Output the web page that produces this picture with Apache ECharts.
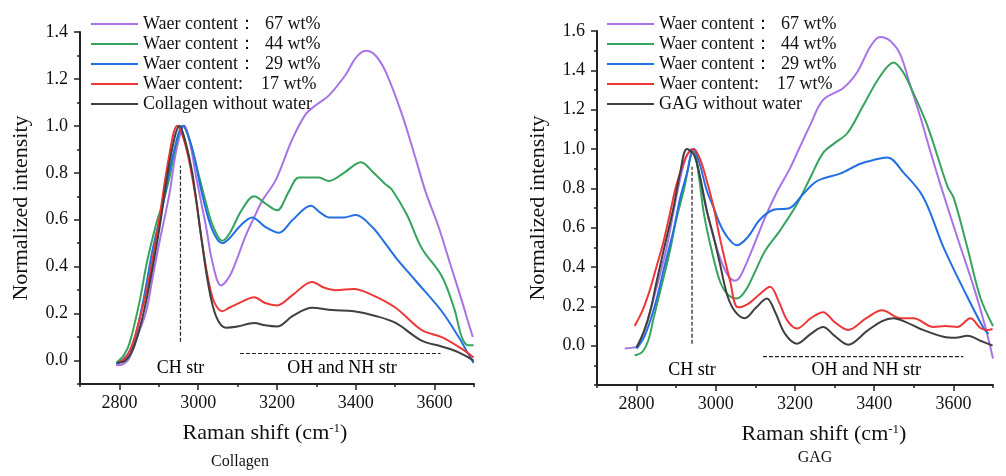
<!DOCTYPE html>
<html lang="en">
<head>
    <meta charset="UTF-8">
    <title>Raman spectra - Collagen / GAG</title>
    <script src="https://cdn.jsdelivr.net/npm/echarts@6.0.0/dist/echarts.min.js"></script>
    <style>
        html, body { margin: 0; padding: 0; background: #fff; }
        #chart { width: 1006px; height: 476px; }
    </style>
</head>
<body>
    <div id="chart"></div>
    <script>
        // 图例名称
        var namesCommon = ['Waer content：  67 wt%', 'Waer content：  44 wt%', 'Waer content：  29 wt%', 'Waer content:    17 wt%'];
        var namesCollagen = namesCommon.concat(['Collagen without water']);
        var namesGag = namesCommon.concat(['GAG without water']);
        var colors = ['#a873e6', '#36a45c', '#2270e2', '#ec3838', '#3f3f3f'];

        // 刻度
        var xMajorTicks = [2800, 3000, 3200, 3400, 3600];
        var yMajorLeft = [0, 0.2, 0.4, 0.6, 0.8, 1.0, 1.2, 1.4];
        var yMajorRight = [0, 0.2, 0.4, 0.6, 0.8, 1.0, 1.2, 1.4, 1.6];

        // Collagen 数据 [Raman shift, intensity]
        var col67 = [[2792,-0.02],[2810,-0.015],[2825,0.01],[2845,0.1],[2868,0.21],[2885,0.36],[2901,0.5],[2927,0.71],[2945,0.9],[2965,1.0],[2980,0.92],[2995,0.78],[3020,0.57],[3036,0.42],[3058,0.32],[3080,0.36],[3100,0.44],[3120,0.53],[3142,0.61],[3162,0.68],[3197,0.77],[3238,0.94],[3273,1.05],[3300,1.09],[3332,1.13],[3375,1.22],[3400,1.29],[3425,1.32],[3450,1.30],[3476,1.23],[3517,1.05],[3552,0.86],[3577,0.72],[3610,0.57],[3640,0.41],[3670,0.25],[3686,0.16],[3697,0.1]];
        var col44 = [[2792,-0.01],[2810,0.02],[2825,0.07],[2851,0.25],[2870,0.42],[2893,0.58],[2910,0.67],[2927,0.78],[2945,0.93],[2960,1.0],[2980,0.93],[3003,0.78],[3020,0.67],[3036,0.58],[3061,0.51],[3079,0.54],[3110,0.64],[3142,0.70],[3170,0.67],[3200,0.64],[3230,0.72],[3256,0.78],[3306,0.78],[3332,0.765],[3370,0.8],[3413,0.845],[3445,0.8],[3476,0.75],[3491,0.73],[3530,0.62],[3567,0.48],[3618,0.36],[3650,0.22],[3669,0.10],[3685,0.065],[3699,0.065]];
        var col29 = [[2792,-0.015],[2810,0.005],[2833,0.06],[2860,0.25],[2884,0.47],[2910,0.66],[2930,0.83],[2962,1.0],[2985,0.9],[3010,0.71],[3035,0.56],[3061,0.50],[3079,0.52],[3110,0.58],[3137,0.61],[3170,0.57],[3205,0.545],[3240,0.6],[3286,0.66],[3310,0.63],[3332,0.61],[3370,0.61],[3400,0.62],[3441,0.57],[3470,0.51],[3501,0.44],[3552,0.34],[3618,0.21],[3661,0.10],[3685,0.03],[3699,-0.01]];
        var col17 = [[2795,-0.01],[2815,0.01],[2833,0.07],[2850,0.17],[2868,0.29],[2885,0.44],[2901,0.6],[2925,0.86],[2947,1.0],[2962,0.95],[2977,0.85],[2995,0.68],[3010,0.5],[3036,0.27],[3061,0.21],[3079,0.225],[3110,0.25],[3142,0.27],[3170,0.245],[3200,0.235],[3240,0.28],[3289,0.335],[3320,0.31],[3349,0.30],[3395,0.305],[3441,0.28],[3501,0.225],[3567,0.13],[3618,0.10],[3669,0.05],[3699,0.013]];
        var col0 = [[2795,-0.01],[2815,0.0],[2835,0.05],[2855,0.16],[2870,0.27],[2890,0.45],[2905,0.6],[2930,0.87],[2953,1.0],[2968,0.93],[2985,0.8],[3005,0.56],[3025,0.33],[3045,0.19],[3070,0.14],[3100,0.145],[3142,0.16],[3170,0.15],[3200,0.145],[3240,0.19],[3289,0.225],[3340,0.215],[3395,0.21],[3450,0.19],[3501,0.16],[3567,0.085],[3618,0.06],[3661,0.035],[3699,0.0]];

        // GAG 数据
        var gag67 = [[2770,-0.015],[2790,-0.01],[2800,-0.005],[2820,0.08],[2843,0.24],[2860,0.37],[2876,0.5],[2893,0.68],[2909,0.84],[2925,0.96],[2939,1.0],[2955,0.9],[2970,0.75],[2990,0.58],[3010,0.45],[3030,0.36],[3048,0.33],[3061,0.35],[3090,0.48],[3124,0.65],[3154,0.78],[3187,0.9],[3210,1.0],[3238,1.12],[3271,1.25],[3322,1.31],[3357,1.39],[3390,1.52],[3415,1.57],[3440,1.55],[3466,1.48],[3490,1.33],[3517,1.16],[3540,1.0],[3567,0.82],[3610,0.55],[3651,0.30],[3680,0.1],[3700,-0.065]];
        var gag44 = [[2795,-0.05],[2815,-0.03],[2830,0.03],[2843,0.14],[2860,0.28],[2884,0.48],[2900,0.64],[2919,0.79],[2944,1.0],[2958,0.85],[2970,0.67],[2990,0.48],[3010,0.33],[3030,0.26],[3053,0.24],[3075,0.28],[3100,0.38],[3124,0.48],[3162,0.585],[3205,0.72],[3240,0.86],[3271,0.98],[3300,1.03],[3332,1.08],[3372,1.22],[3415,1.37],[3449,1.44],[3470,1.40],[3491,1.32],[3534,1.12],[3585,0.81],[3601,0.75],[3635,0.5],[3668,0.245],[3700,0.10]];
        var gag29 = [[2800,-0.015],[2818,0.04],[2835,0.13],[2851,0.24],[2870,0.4],[2893,0.585],[2910,0.75],[2927,0.875],[2944,1.0],[2960,0.92],[2977,0.79],[2995,0.7],[3010,0.62],[3030,0.55],[3053,0.51],[3080,0.55],[3111,0.64],[3144,0.69],[3187,0.70],[3220,0.77],[3250,0.83],[3271,0.85],[3314,0.875],[3365,0.925],[3400,0.945],[3433,0.957],[3474,0.88],[3524,0.755],[3575,0.50],[3636,0.245],[3676,0.09],[3689,0.06]];
        var gag17 = [[2795,0.10],[2815,0.18],[2833,0.28],[2850,0.4],[2868,0.53],[2885,0.68],[2901,0.82],[2925,0.96],[2944,1.0],[2960,0.95],[2977,0.84],[2995,0.7],[3010,0.55],[3036,0.33],[3056,0.195],[3080,0.21],[3110,0.26],[3137,0.30],[3160,0.22],[3180,0.13],[3205,0.087],[3240,0.14],[3271,0.17],[3300,0.12],[3334,0.08],[3380,0.14],[3420,0.18],[3466,0.14],[3499,0.14],[3550,0.095],[3580,0.1],[3610,0.095],[3643,0.14],[3668,0.09],[3685,0.08],[3699,0.085]];
        var gag0 = [[2800,-0.01],[2820,0.08],[2835,0.18],[2851,0.33],[2870,0.5],[2893,0.70],[2910,0.88],[2927,1.0],[2945,0.97],[2960,0.86],[2977,0.69],[2995,0.55],[3010,0.42],[3030,0.25],[3050,0.17],[3073,0.14],[3100,0.19],[3129,0.24],[3150,0.17],[3175,0.06],[3205,0.01],[3240,0.06],[3271,0.095],[3300,0.05],[3334,0.005],[3382,0.075],[3420,0.125],[3448,0.14],[3480,0.12],[3517,0.085],[3575,0.045],[3605,0.04],[3636,0.05],[3668,0.025],[3699,0.0]];

        // 标注 (虚线和文字)
        var colVLine = [[2955,0.08],[2955,0.83]];
        var colHLine = [[3106,0.03],[3615,0.03]];
        var colNotes = [[2955,-0.035,'CH str'],[3365,-0.035,'OH and NH str']];
        var gagVLine = [[2940,0.01],[2940,0.91]];
        var gagHLine = [[3119,-0.056],[3625,-0.056]];
        var gagNotes = [[2940,-0.127,'CH str'],[3380,-0.127,'OH and NH str']];

        var FONT = '"Liberation Serif", "Times New Roman", serif';
        var myChart = echarts.init(document.getElementById('chart'));

        function curve(name, data, color, g) {
            return {
                name: name, type: 'line', xAxisIndex: g * 2, yAxisIndex: g * 2,
                data: data, smooth: 0.35, symbol: 'none', silent: true,
                lineStyle: { color: color, width: 2 }, itemStyle: { color: color }
            };
        }
        function dashed(data, g) {
            return {
                type: 'line', xAxisIndex: g * 2, yAxisIndex: g * 2, data: data,
                symbol: 'none', silent: true,
                lineStyle: { color: '#222', width: 1.2, type: [4, 2] }
            };
        }
        function notes(data, g) {
            return {
                type: 'scatter', xAxisIndex: g * 2, yAxisIndex: g * 2, data: data,
                symbolSize: 0, silent: true,
                label: {
                    show: true, position: 'inside', color: '#000', fontSize: 18, fontFamily: FONT,
                    textBorderWidth: 0, opacity: 1,
                    formatter: function (p) { return p.data[2]; }
                }
            };
        }
        function xAxes(g, pad) {
            return [{
                gridIndex: g, type: 'value', min: 2700, max: 3700, interval: 100, position: 'bottom',
                axisLine: { onZero: false, lineStyle: { color: '#222', width: 2 } },
                axisTick: { length: 3, lineStyle: { color: '#222', width: 1.5 } },
                axisLabel: {
                    margin: 10, color: '#111', fontSize: 18, fontFamily: FONT,
                    formatter: function (v) { return v % 200 === 0 ? String(v) : ''; }
                },
                splitLine: { show: false },
                name: 'Raman shift (cm{sup|-1})', nameLocation: 'middle', nameGap: 38,
                nameTextStyle: {
                    color: '#111', fontSize: 22, fontFamily: FONT, padding: pad,
                    rich: { sup: { fontSize: 13, fontFamily: FONT, color: '#111', verticalAlign: 'top', padding: [0, 0, 10, 0] } }
                }
            }, {
                gridIndex: g, type: 'value', min: 2700, max: 3700, position: 'bottom',
                axisLine: { show: false, onZero: false },
                axisTick: { customValues: xMajorTicks, length: 6, lineStyle: { color: '#222', width: 1.5 } },
                axisLabel: { show: false },
                splitLine: { show: false }
            }];
        }
        function yAxes(g, ymin, ymax, major) {
            return [{
                gridIndex: g, type: 'value', min: ymin, max: ymax, interval: 0.1, position: 'left',
                axisLine: { show: true, onZero: false, lineStyle: { color: '#222', width: 2 } },
                axisTick: { show: true, length: 3, lineStyle: { color: '#222', width: 1.5 } },
                axisLabel: {
                    margin: 12, color: '#111', fontSize: 18, fontFamily: FONT,
                    formatter: function (v) { return (v > -0.001 && Math.round(v * 10) % 2 === 0) ? v.toFixed(1) : ''; }
                },
                splitLine: { show: false },
                name: 'Normalized intensity', nameLocation: 'middle', nameGap: 48,
                nameTextStyle: { color: '#111', fontSize: 22, fontFamily: FONT }
            }, {
                gridIndex: g, type: 'value', min: ymin, max: ymax, position: 'left',
                axisLine: { show: false, onZero: false },
                axisTick: { show: true, customValues: major, length: 6, lineStyle: { color: '#222', width: 1.5 } },
                axisLabel: { show: false },
                splitLine: { show: false }
            }];
        }
        function legend(left, names) {
            return {
                orient: 'vertical', left: left, top: 10, icon: 'rect',
                itemWidth: 47, itemHeight: 2, itemGap: 2,
                data: names,
                textStyle: { color: '#111', fontSize: 18, lineHeight: 18, fontFamily: FONT }
            };
        }

        var colSets = [col67, col44, col29, col17, col0];
        var gagSets = [gag67, gag44, gag29, gag17, gag0];
        var series = [];
        colSets.forEach(function (d, i) { series.push(curve(namesCollagen[i], d, colors[i], 0)); });
        gagSets.forEach(function (d, i) { series.push(curve(namesGag[i], d, colors[i], 1)); });
        series.push(dashed(colVLine, 0), dashed(colHLine, 0), notes(colNotes, 0));
        series.push(dashed(gagVLine, 1), dashed(gagHLine, 1), notes(gagNotes, 1));

        var option = {
            backgroundColor: '#fff',
            animation: false,
            grid: [
                { left: 80, top: 32, width: 394, height: 352 },
                { left: 597, top: 31, width: 396, height: 354 }
            ],
            xAxis: xAxes(0, [0, 24, 0, 0]).concat(xAxes(1, [0, 0, 0, 58])),
            yAxis: yAxes(0, -0.1, 1.4, yMajorLeft).concat(yAxes(1, -0.2, 1.6, yMajorRight)),
            legend: [legend(86, namesCollagen), legend(602, namesGag)],
            graphic: [
                { type: 'text', x: 240, y: 462, style: { text: 'Collagen', fill: '#111', font: '16px ' + FONT, textAlign: 'center', textVerticalAlign: 'middle' } },
                { type: 'text', x: 815, y: 458, style: { text: 'GAG', fill: '#111', font: '16px ' + FONT, textAlign: 'center', textVerticalAlign: 'middle' } }
            ],
            series: series
        };
        myChart.setOption(option);
    </script>
</body>
</html>
